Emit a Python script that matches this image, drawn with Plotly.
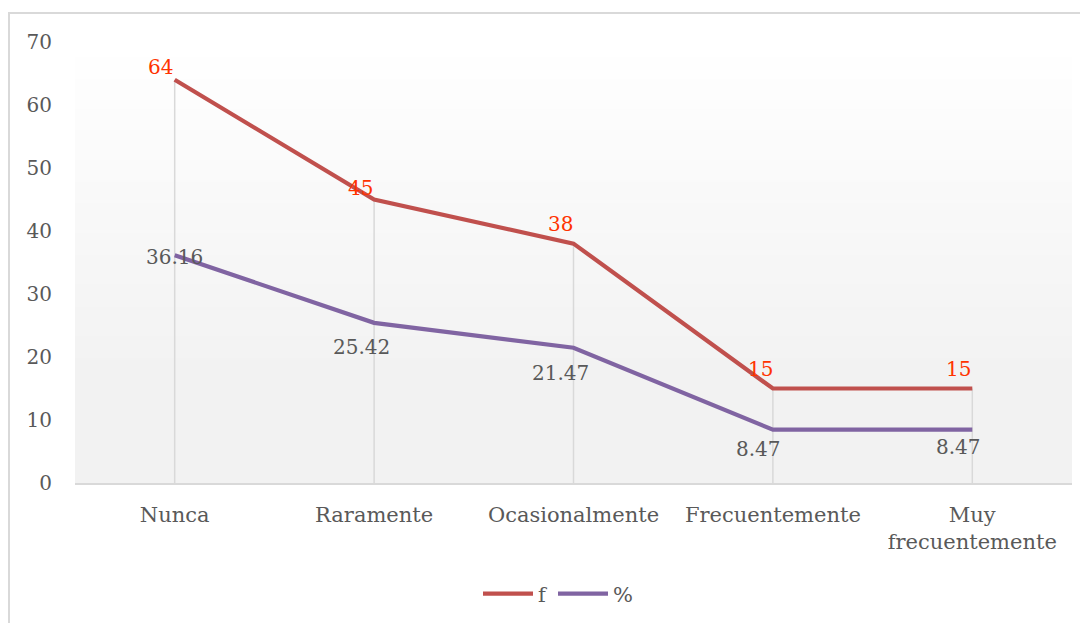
import plotly.graph_objects as go

categories = ["Nunca", "Raramente", "Ocasionalmente", "Frecuentemente", "Muy<br>frecuentemente"]
f_values = [64, 45, 38, 15, 15]
pct_values = [36.16, 25.42, 21.47, 8.47, 8.47]
pct_labels = ["36.16", "25.42", "21.47", "8.47", "8.47"]
y_ticks = [0, 10, 20, 30, 40, 50, 60, 70]

FONT = "DejaVu Serif"
TXT = "#595959"
RED = "#C0504D"
PURPLE = "#8064A2"
LBL_RED = "#FF3300"

# label offsets (pixels) — styling
f_off = [(-14, 13), (-14, 12), (-13, 20), (-12, 20), (-14, 20)]
p_off = [(0, -2), (-13, -24), (-13, -25), (-14, -19), (-14, -17)]

W, H = 1080, 615
L, T, PW, PH = 67, 34, 997, 441

fig = go.Figure()

shapes = []
N = 60
for i in range(N):
    y0 = i / N
    y1 = (i + 1) / N
    t = (y0 + y1) / 2
    if t < 0.25:
        v = 242
    else:
        v = 242 + (255 - 242) * (t - 0.25) / 0.75
    v = int(round(v))
    shapes.append(dict(type="rect", xref="paper", yref="paper", x0=0, x1=1, y0=y0, y1=y1 + 0.002,
                       fillcolor=f"rgb({v},{v},{v})", line=dict(width=0), layer="below"))

for c, a, b in zip(categories, f_values, pct_values):
    shapes.append(dict(type="line", xref="x", yref="y", x0=c, x1=c, y0=0, y1=max(a, b),
                       line=dict(color="#D9D9D9", width=1.5), layer="below"))

shapes.append(dict(type="rect", xref="paper", yref="paper",
                   x0=(1 - L) / PW, x1=(1100 - L) / PW,
                   y0=-0.5, y1=(T + PH - 5) / PH,
                   line=dict(color="#D9D9D9", width=2), fillcolor="rgba(0,0,0,0)", layer="below"))

fig.add_trace(go.Scatter(x=categories, y=f_values, mode="lines", name="f",
                         line=dict(color=RED, width=4.2), hoverinfo="skip"))
fig.add_trace(go.Scatter(x=categories, y=pct_values, mode="lines", name="%",
                         line=dict(color=PURPLE, width=4.2), hoverinfo="skip"))

annotations = []
for c, v, (dx, dy) in zip(categories, f_values, f_off):
    annotations.append(dict(x=c, y=v, text=str(v), showarrow=False, xshift=dx, yshift=dy,
                            font=dict(family=FONT, size=20, color=LBL_RED)))
for c, v, s, (dx, dy) in zip(categories, pct_values, pct_labels, p_off):
    annotations.append(dict(x=c, y=v, text=s, showarrow=False, xshift=dx, yshift=dy,
                            font=dict(family=FONT, size=20, color=TXT)))

fig.update_layout(
    width=W, height=H,
    margin=dict(l=L, r=W - L - PW, t=T, b=H - T - PH, autoexpand=False),
    paper_bgcolor="white",
    plot_bgcolor="rgba(0,0,0,0)",
    font=dict(family=FONT, size=20, color=TXT),
    shapes=shapes,
    annotations=annotations,
    showlegend=True,
    legend=dict(orientation="h", x=(558 - 8 - L) / PW, xanchor="center",
                yref="container", y=1 - (594 - 8) / H, yanchor="middle",
                font=dict(family=FONT, size=21, color=TXT), itemwidth=50, bgcolor="rgba(0,0,0,0)"),
    xaxis=dict(type="category", range=[-0.5, 4.5], showgrid=False, zeroline=False,
               showline=True, linecolor="#D9D9D9", linewidth=1.5, ticks="",
               ticklabelstandoff=12, tickfont=dict(family=FONT, size=21, color=TXT)),
    yaxis=dict(range=[0, 70], tickvals=y_ticks, showgrid=False, zeroline=False,
               showline=False, ticks="", ticklabelstandoff=22,
               tickfont=dict(family=FONT, size=20, color=TXT)),
)

fig.write_html("out.html")
